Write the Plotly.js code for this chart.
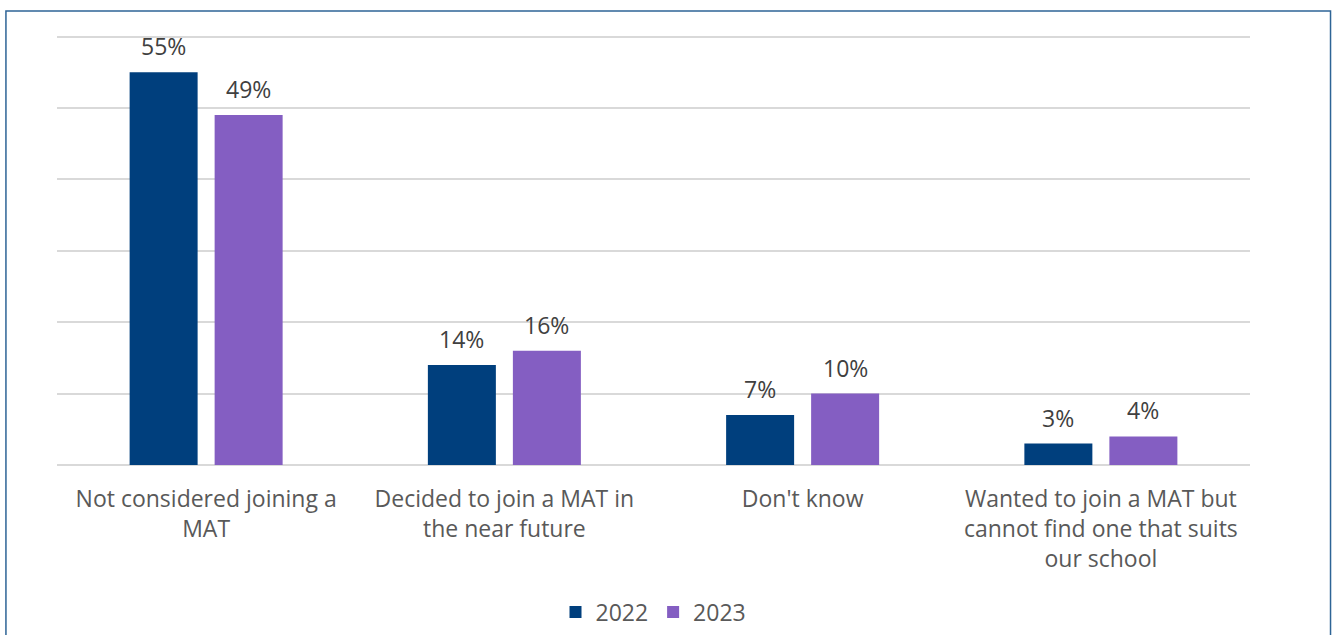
<!DOCTYPE html>
<html>
<head>
<meta charset="utf-8">
<script src="https://cdn.plot.ly/plotly-3.0.1.min.js"></script>
<style>html,body{margin:0;padding:0;background:#fff;overflow:hidden;}#chart{width:1335px;height:635px;}</style>
</head>
<body>
<div id="chart"></div>
<script>
const categories = [
  "Not considered joining a<br>MAT",
  "Decided to join a MAT in<br>the near future",
  "Don't know",
  "Wanted to join a MAT but<br>cannot find one that suits<br>our school"
];
const values2022 = [55, 14, 7, 3];
const values2023 = [49, 16, 10, 4];
const seriesNames = ["2022", "2023"];

const FONT = "'Open Sans', 'Noto Sans', sans-serif";
const traces = [
  {type: "bar", name: seriesNames[0], x: categories, y: values2022,
   marker: {color: "#003f7d"}, hoverinfo: "none"},
  {type: "bar", name: seriesNames[1], x: categories, y: values2023,
   marker: {color: "#845ec2"}, hoverinfo: "none"}
];

// data labels as annotations above each bar (offset to each bar's slot in the group)
const annotations = [];
[values2022, values2023].forEach((vals, si) => {
  vals.forEach((v, i) => {
    annotations.push({
      x: categories[i], y: v, xref: "x", yref: "y",
      text: v + "%", showarrow: false, yanchor: "bottom",
      xshift: si === 0 ? -42.5 : 42.5, yshift: 8,
      font: {family: FONT, size: 23, color: "#404040"}
    });
  });
});

const layout = {
  width: 1335, height: 635,
  margin: {l: 57, r: 85, t: 33, b: 170},
  paper_bgcolor: "#ffffff", plot_bgcolor: "#ffffff",
  barmode: "group", bargap: 0.43, bargroupgap: 0.2,
  font: {family: FONT, size: 23, color: "#595959"},
  xaxis: {showline: false, ticks: "", ticklabelstandoff: 18,
          tickfont: {family: FONT, size: 23, color: "#595959"}, automargin: false},
  yaxis: {range: [0, 60.5], dtick: 10, showticklabels: false, showgrid: true, automargin: false,
          gridcolor: "#d9d9d9", gridwidth: 2, zeroline: true, zerolinecolor: "#d9d9d9", zerolinewidth: 2, showline: false},
  legend: {orientation: "h", x: 0.5, xanchor: "center", xref: "paper",
           y: 0.036, yref: "container", yanchor: "middle",
           font: {family: FONT, size: 23, color: "#595959"}, traceorder: "normal"},
  annotations: annotations,
  shapes: [{type: "rect", xref: "paper", yref: "paper", x0: -0.0428, x1: 1.0675, y0: -0.42, y1: 1.051,
            line: {color: "#2e6496", width: 1.5}, fillcolor: "rgba(0,0,0,0)", layer: "below"}],
  showlegend: true
};

Plotly.newPlot("chart", traces, layout, {displayModeBar: false, staticPlot: true});
</script>
</body>
</html>
